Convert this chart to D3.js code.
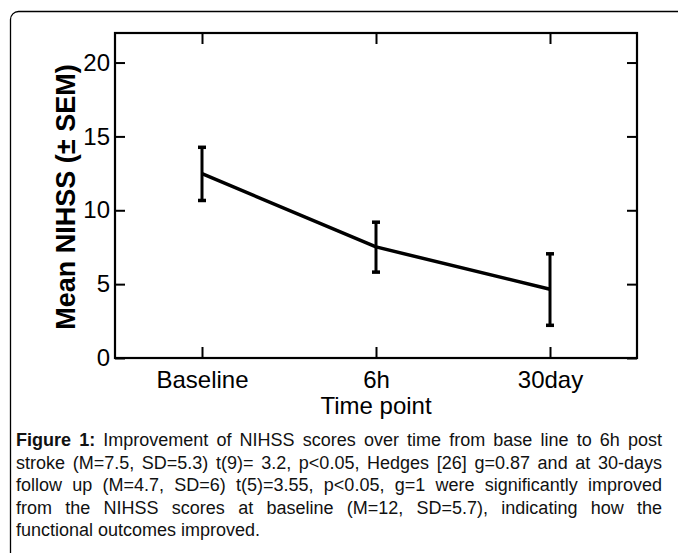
<!DOCTYPE html>
<html>
<head>
<meta charset="utf-8">
<script src="https://cdn.jsdelivr.net/npm/d3@7"></script>
<style>
  body { margin: 0; background: #fff; }
  #wrap { position: relative; width: 678px; height: 553px; overflow: hidden; }
  svg { position: absolute; left: 0; top: 0; }
  #caption {
    position: absolute; left: 16px; width: 646px; top: 429px;
    font-family: "Liberation Sans", Arial, sans-serif; font-size: 18px;
    line-height: 22.5px; color: #111;
  }
  #caption div { text-align: justify; text-align-last: justify; white-space: nowrap; }
  #caption div.last { text-align-last: left; }
</style>
</head>
<body>
<div id="wrap">
  <svg id="chart" width="678" height="553"></svg>
  <div id="caption"></div>
</div>
<script>
// values
const timePoints = ['Baseline', '6h', '30day'];
const meanNihss = [12.48, 7.52, 4.65];
const semNihss = [1.8, 1.69, 2.42];
const yTicks = [0, 5, 10, 15, 20];

const captionLines = [
  ['Figure 1:', ' Improvement of NIHSS scores over time from base line to 6h post'],
  ['', 'stroke (M=7.5, SD=5.3) t(9)= 3.2, p<0.05, Hedges [26] g=0.87 and at 30-days'],
  ['', 'follow up (M=4.7, SD=6) t(5)=3.55,  p<0.05, g=1 were significantly improved'],
  ['', 'from the NIHSS scores at baseline (M=12, SD=5.7), indicating how the'],
  ['', 'functional outcomes improved.']
];

const data = timePoints.map((t, i) => ({ t: t, m: meanNihss[i], s: semNihss[i] }));

const margin = { left: 115, top: 33, right: 41, bottom: 195 };
const width = 678 - margin.left - margin.right;
const height = 553 - margin.top - margin.bottom;

const svg = d3.select('#chart');

// outer frame of the figure (only the top-left corner is inside the picture)
svg.append('rect')
  .attr('x', 10.5)
  .attr('y', 11.5)
  .attr('width', 720)
  .attr('height', 600)
  .attr('rx', 8)
  .attr('fill', 'none')
  .attr('stroke', '#000')
  .attr('stroke-width', 1.3);

const g = svg.append('g')
  .attr('transform', `translate(${margin.left}, ${margin.top})`);

const xScale = d3.scalePoint()
  .domain(timePoints)
  .range([0, width])
  .padding(0.5);

const yScale = d3.scaleLinear()
  .domain([0, 22])
  .range([height, 0]);

const font = '"Liberation Sans", Arial, Helvetica, sans-serif';

function styleAxis(sel) {
  sel.select('.domain').remove();
  sel.selectAll('line').attr('stroke', '#000').attr('stroke-width', 2);
  sel.selectAll('text')
    .attr('fill', '#000')
    .style('font-family', font)
    .style('font-size', '24px');
}

g.append('g')
  .attr('transform', `translate(0, ${height})`)
  .call(d3.axisBottom(xScale).tickSizeInner(-11).tickSizeOuter(0).tickPadding(13))
  .call(styleAxis);

g.append('g')
  .call(d3.axisTop(xScale).tickSizeInner(-11).tickSizeOuter(0).tickFormat(''))
  .call(styleAxis);

g.append('g')
  .call(d3.axisLeft(yScale).tickValues(yTicks).tickSizeInner(-10).tickSizeOuter(0).tickPadding(5))
  .call(styleAxis);

g.append('g')
  .attr('transform', `translate(${width}, 0)`)
  .call(d3.axisRight(yScale).tickValues(yTicks).tickSizeInner(-10).tickSizeOuter(0).tickFormat(''))
  .call(styleAxis);

// plot box
g.append('rect')
  .attr('width', width)
  .attr('height', height)
  .attr('fill', 'none')
  .attr('stroke', '#000')
  .attr('stroke-width', 2.2);

// mean line
const line = d3.line()
  .x(d => xScale(d.t))
  .y(d => yScale(d.m));

g.append('path')
  .datum(data)
  .attr('d', line)
  .attr('fill', 'none')
  .attr('stroke', '#000')
  .attr('stroke-width', 3.5)
  .attr('stroke-linejoin', 'round');

// error bars
const bars = g.selectAll('.err')
  .data(data)
  .join('g')
  .attr('class', 'err');

bars.append('line')
  .attr('x1', d => xScale(d.t))
  .attr('x2', d => xScale(d.t))
  .attr('y1', d => yScale(d.m + d.s))
  .attr('y2', d => yScale(d.m - d.s))
  .attr('stroke', '#000')
  .attr('stroke-width', 3);

bars.selectAll('rect')
  .data(d => [d.m + d.s, d.m - d.s].map(v => ({ t: d.t, v: v })))
  .join('rect')
  .attr('x', d => xScale(d.t) - 4)
  .attr('y', d => yScale(d.v) - 1.5)
  .attr('width', 8)
  .attr('height', 3.5)
  .attr('fill', '#000');

// axis titles
svg.append('text')
  .attr('transform', 'translate(75, 197) rotate(-90)')
  .attr('text-anchor', 'middle')
  .style('font-family', font)
  .style('font-size', '27px')
  .style('font-weight', 'bold')
  .text('Mean NIHSS (\u00b1 SEM)');

svg.append('text')
  .attr('x', margin.left + width / 2)
  .attr('y', 414)
  .attr('text-anchor', 'middle')
  .style('font-family', font)
  .style('font-size', '24px')
  .text('Time point');

// caption, one block per printed line so the breaks stay as in the figure
const cap = d3.select('#caption')
  .selectAll('div')
  .data(captionLines)
  .join('div')
  .attr('class', (d, i) => (i === captionLines.length - 1 ? 'last' : null));

cap.append('b').text(d => d[0]);
cap.append('span').text(d => d[1]);
</script>
</body>
</html>
